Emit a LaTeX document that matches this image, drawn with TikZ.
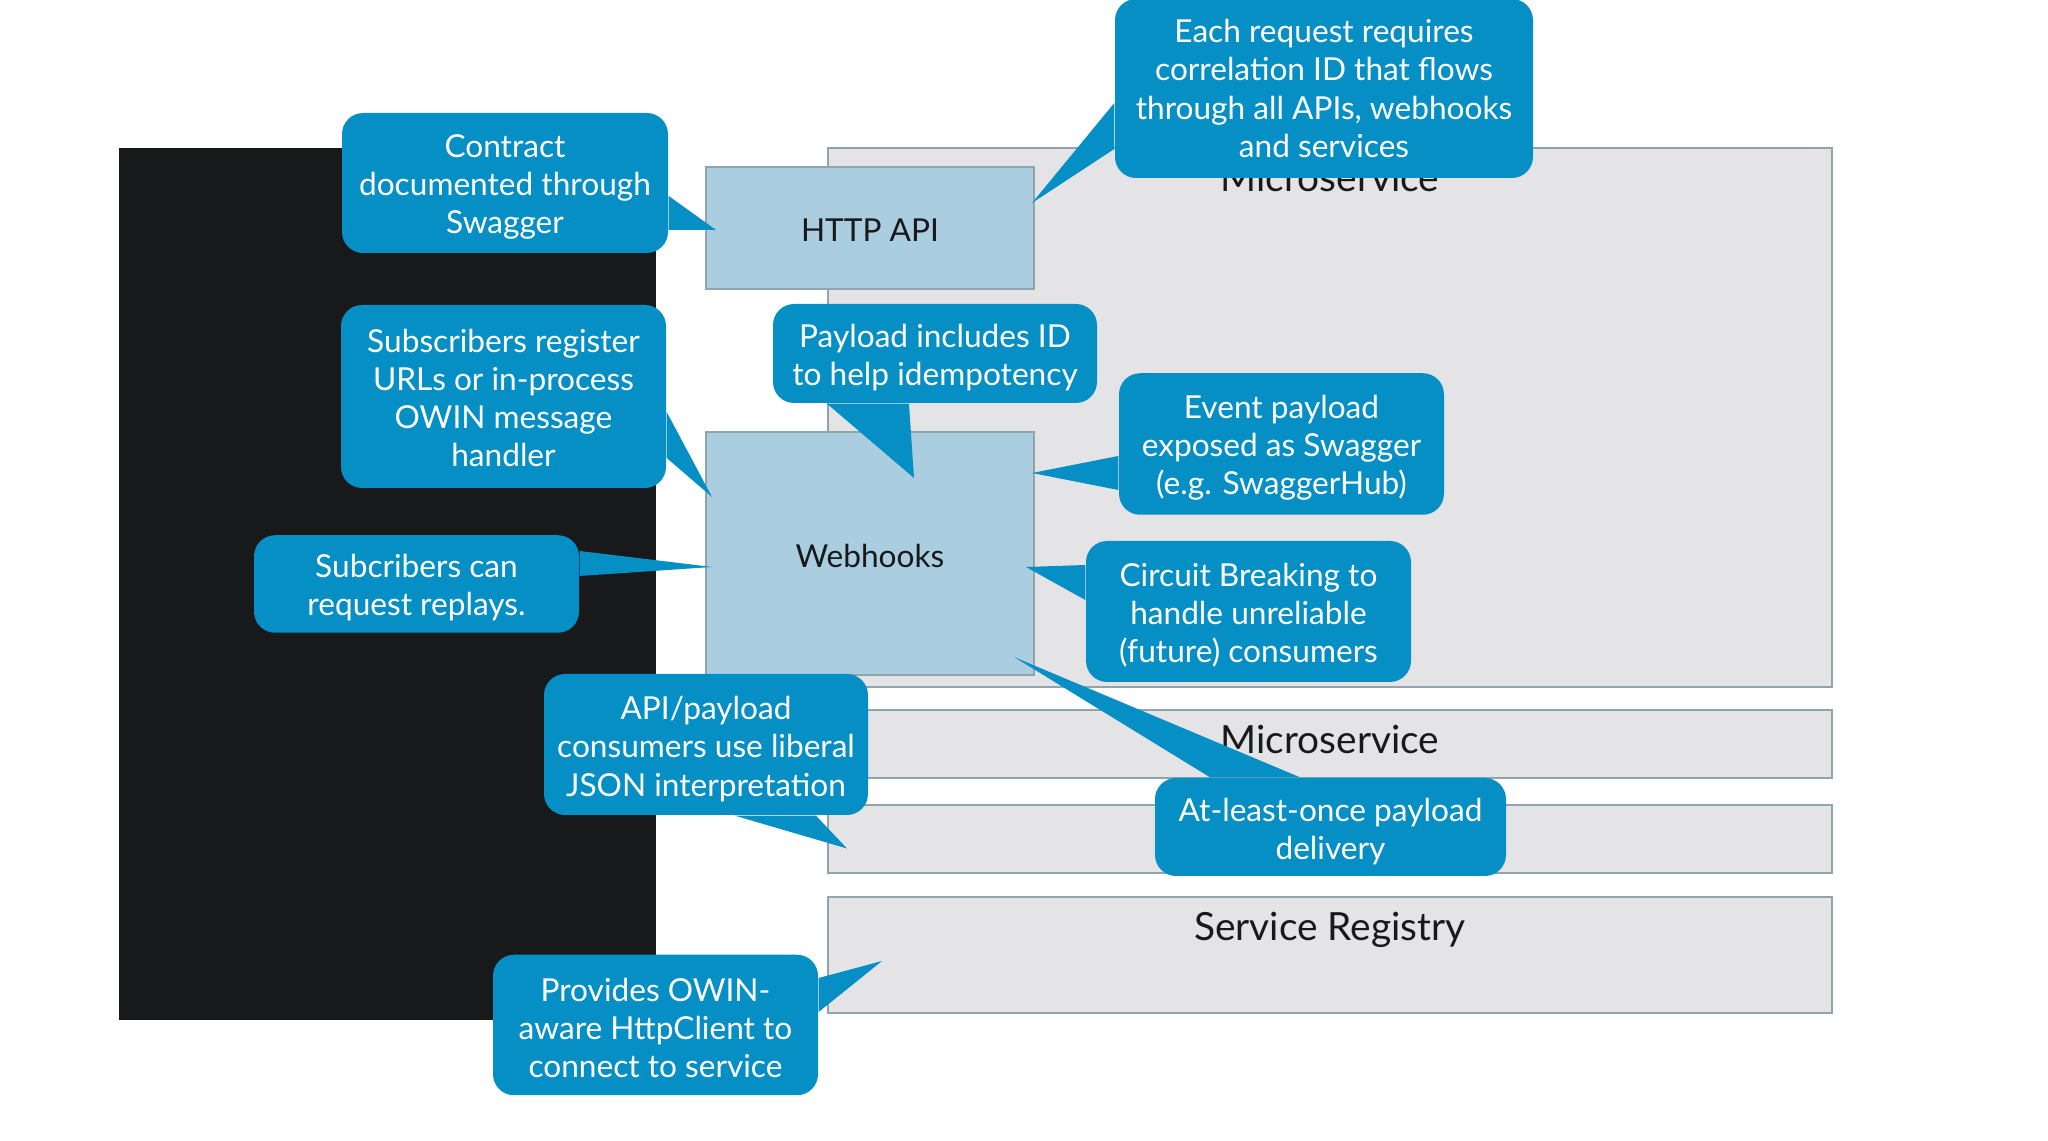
\documentclass[tikz,border=0pt]{standalone}
\usepackage{fontspec}
\setmainfont{Lato}
\definecolor{boxgrey}{HTML}{E4E4E6}
\definecolor{boxline}{HTML}{8FA5AC}
\definecolor{apiblue}{HTML}{AACDE0}
\definecolor{calloutblue}{HTML}{068FC5}
\definecolor{darkpanel}{HTML}{18191B}
\newcommand{\lift}[1]{\rule{0pt}{#1pt}}
\tikzstyle{panel}=[fill=darkpanel, shape=rectangle, inner sep=0pt]
\tikzstyle{service}=[fill=boxgrey, draw=boxline, line width=0.4pt, shape=rectangle, inner sep=0pt]
\tikzstyle{api}=[fill=apiblue, draw=boxline, line width=0.4pt, shape=rectangle, inner sep=0pt, text=darkpanel, font=\fontsize{9}{11}\selectfont]
\tikzstyle{title}=[anchor=base, inner sep=0pt, text=darkpanel, font=\fontsize{11.05}{12}\selectfont]
\tikzstyle{callout}=[fill=calloutblue, shape=rectangle, rounded corners=6pt, inner sep=0pt, text=white, align=center, font=\fontsize{9}{10.85}\selectfont]
\tikzstyle{tail}=[fill=calloutblue]
\pgfdeclarelayer{boxlayer}
\pgfdeclarelayer{calloutlayer}
\pgfsetlayers{boxlayer,main,calloutlayer}
\begin{document}
\begin{tikzpicture}
	\useasboundingbox (0, 0.01) rectangle (20.48, -11.40);
	\begin{pgfonlayer}{boxlayer}
		\node [style=panel, minimum width=5.37cm, minimum height=8.72cm] (panel) at (3.875, -5.83) {};
		\node [style=service, minimum width=10.04cm, minimum height=5.39cm] (micro1) at (13.3, -4.165) {};
		\node [style=service, minimum width=10.04cm, minimum height=0.68cm] (micro2) at (13.3, -7.43) {};
		\node [style=service, minimum width=10.04cm, minimum height=0.68cm] (micro3) at (13.3, -8.38) {};
		\node [style=service, minimum width=10.04cm, minimum height=1.16cm] (registry) at (13.3, -9.54) {};
		\node [style=title] (micro1 title) at (13.3, -1.91) {Microservice};
		\node [style=title] (micro2 title) at (13.3, -7.53) {Microservice};
		\node [style=title] (registry title) at (13.3, -9.4) {Service Registry};
		\node [style=api, minimum width=3.28cm, minimum height=1.22cm] (http) at (8.7, -2.27) {\lift{7.8}HTTP API};
		\node [style=api, minimum width=3.28cm, minimum height=2.43cm] (webhooks) at (8.7, -5.525) {\lift{7.8}Webhooks};
	\end{pgfonlayer}
	\begin{pgfonlayer}{calloutlayer}
		\coordinate (contract tip) at (7.16, -2.29);
		\coordinate (each tip) at (10.32, -2.02);
		\coordinate (register tip) at (7.12, -4.96);
		\coordinate (payload tip) at (9.14, -4.77);
		\coordinate (event tip) at (10.32, -4.72);
		\coordinate (replays tip) at (7.12, -5.66);
		\coordinate (circuit tip) at (10.26, -5.66);
		\coordinate (liberal tip) at (8.47, -8.475);
		\coordinate (once tip) at (10.14, -6.56);
		\coordinate (owin tip) at (8.82, -9.6);
		\node [style=callout, minimum width=3.26cm, minimum height=1.4cm] (contract) at (5.05, -1.82) {\lift{8.8}Contract\\documented through\\Swagger};
		\node [style=callout, minimum width=4.18cm, minimum height=1.79cm] (each) at (13.24, -0.875) {Each request requires\\correlation ID that flows\\through all APIs, webhooks\\and services};
		\node [style=callout, minimum width=3.25cm, minimum height=1.83cm] (register) at (5.035, -3.955) {\lift{7.4}Subscribers register\\URLs or in-process\\OWIN message\\handler};
		\node [style=callout, minimum width=3.24cm, minimum height=0.99cm] (payload) at (9.35, -3.525) {\lift{8.8}Payload includes ID\\to help idempotency};
		\node [style=callout, minimum width=3.25cm, minimum height=1.415cm] (event) at (12.815, -4.43) {\lift{8.8}Event payload\\exposed as Swagger\\(e.g. SwaggerHub)};
		\node [style=callout, minimum width=3.25cm, minimum height=0.975cm] (replays) at (4.165, -5.83) {\lift{8.5}Subcribers can\\request replays.};
		\node [style=callout, minimum width=3.25cm, minimum height=1.41cm] (circuit) at (12.485, -6.105) {\lift{8.8}Circuit Breaking to\\handle unreliable\\(future) consumers};
		\node [style=callout, minimum width=3.24cm, minimum height=1.41cm] (liberal) at (7.06, -7.435) {\lift{9.2}API/payload\\consumers use liberal\\JSON interpretation};
		\node [style=callout, minimum width=3.51cm, minimum height=0.98cm] (once) at (13.305, -8.26) {\lift{9.2}At-least-once payload\\delivery};
		\node [style=callout, minimum width=3.25cm, minimum height=1.405cm] (owin) at (6.555, -10.24) {\lift{8.5}Provides OWIN-\\aware HttpClient to\\connect to service};
		\fill [style=tail] ([yshift=-0.13cm]contract.east) -- (contract tip) -- ([yshift=-0.47cm]contract.east) -- cycle;
		\fill [style=tail] ([yshift=-0.145cm]each.west) -- (each tip) -- ([yshift=-0.605cm]each.west) -- cycle;
		\fill [style=tail] ([yshift=-0.155cm]register.east) -- (register tip) -- ([yshift=-0.615cm]register.east) -- cycle;
		\fill [style=tail] ([xshift=-1.08cm]payload.south) -- (payload tip) -- ([xshift=-0.26cm]payload.south) -- cycle;
		\fill [style=tail] ([yshift=-0.12cm]event.west) -- (event tip) -- ([yshift=-0.46cm]event.west) -- cycle;
		\fill [style=tail] ([yshift=0.33cm]replays.east) -- (replays tip) -- ([yshift=0.08cm]replays.east) -- cycle;
		\fill [style=tail] ([yshift=0.465cm]circuit.west) -- (circuit tip) -- ([yshift=0.115cm]circuit.west) -- cycle;
		\fill [style=tail] ([xshift=0.29cm]liberal.south) -- (liberal tip) -- ([xshift=1.1cm]liberal.south) -- cycle;
		\fill [style=tail] ([xshift=-1.205cm]once.north) -- (once tip) -- ([xshift=-0.305cm]once.north) -- cycle;
		\fill [style=tail] ([yshift=0.47cm]owin.east) -- (owin tip) -- ([yshift=0.13cm]owin.east) -- cycle;
	\end{pgfonlayer}
\end{tikzpicture}
\end{document}
